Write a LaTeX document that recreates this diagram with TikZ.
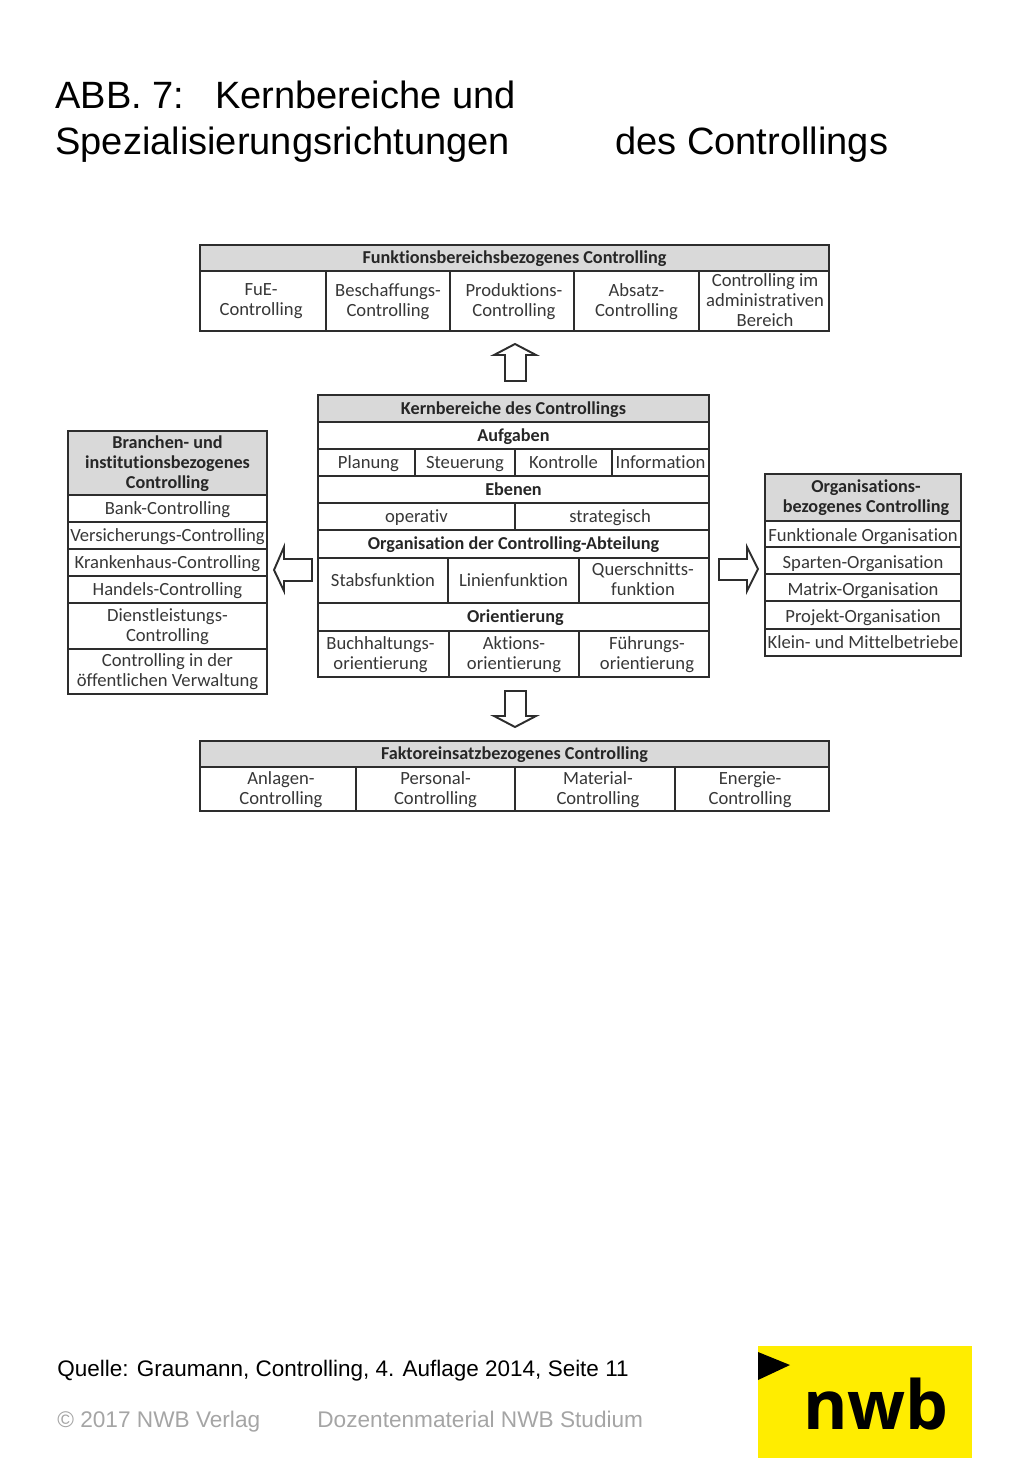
\documentclass[tikz,border=0pt]{standalone}
\usepackage{fontspec}
\setmainfont{Liberation Sans}
\newfontfamily\cellfont[Ligatures=CommonOff]{Carlito}
\newfontfamily\logofont{Open Sans}
\definecolor{rand}{RGB}{45,45,45}
\definecolor{kopf}{RGB}{217,217,217}
\definecolor{schrift}{RGB}{55,55,55}
\definecolor{grauf}{RGB}{165,165,165}
\definecolor{gelb}{RGB}{255,237,0}
\usetikzlibrary{positioning}
\tikzset{
  zelle/.style={draw=rand,line width=1.1pt},
  kopfz/.style={zelle,fill=kopf},
  ztext/.style={font=\cellfont\fontsize{10.6}{11.4}\selectfont,text=schrift,align=center,inner sep=0pt,
    yshift=-1.1pt,execute at begin node=\strut,execute at end node=\strut},
  ktext/.style={ztext,font=\cellfont\bfseries\fontsize{10.35}{11.4}\selectfont,text=black!85},
  rtext/.style={ztext,yshift=-1pt},
  blockpfeil/.style={draw=rand,line width=1.1pt,fill=white,line join=miter},
  zeile/.style={anchor=base west,inner sep=0pt}
}
\begin{document}
\begin{tikzpicture}[x=0.02cm,y=-0.02cm]
  \useasboundingbox (0,0) rectangle (1024,1479);

  % Titel
  \node[zeile,font=\fontsize{21.65}{24}\selectfont] (abb) at (55,109) {ABB. 7:};
  \node[zeile,font=\fontsize{21.65}{24}\selectfont] (kern) at (215,109) {Kernbereiche und};
  \node[zeile,font=\fontsize{21.65}{24}\selectfont] (spez) at (55,155) {Spezialisierungsrichtungen};
  \node[zeile,font=\fontsize{21.65}{24}\selectfont] (desc) at (615,155) {des Controllings};

  % oben
  \draw[kopfz] (200,245) rectangle (829,271) node[midway,ktext] (fb) {Funktionsbereichsbezogenes Controlling};
  \draw[zelle] (200,271) rectangle (326,331) node[midway,ztext,xshift=-1.1pt] (fue) {FuE-\\Controlling};
  \draw[zelle] (326,271) rectangle (450,331) node[midway,ztext] (besch) {Beschaffungs-\\Controlling};
  \draw[zelle] (450,271) rectangle (574,331) node[midway,ztext,xshift=1.1pt] (prod) {Produktions-\\Controlling};
  \draw[zelle] (574,271) rectangle (699,331) node[midway,ztext] (abs) {Absatz-\\Controlling};
  \draw[zelle] (699,271) rectangle (829,331) node[midway,ztext,xshift=0.6pt] (adm) {Controlling im\\administrativen\\Bereich};

  % Pfeile
  \draw[blockpfeil] (515,344) -- (536,355) -- (526,355) -- (526,381) -- (505,381) -- (505,355) -- (494,355) -- cycle;
  \draw[blockpfeil] (274,570) -- (284,547) -- (284,559) -- (312,559) -- (312,581) -- (284,581) -- (284,591) -- cycle;
  \draw[blockpfeil] (758,569) -- (747,547) -- (747,559) -- (719,559) -- (719,580) -- (747,580) -- (747,591) -- cycle;
  \draw[blockpfeil] (515,727) -- (536,716) -- (526,716) -- (526,691) -- (505,691) -- (505,716) -- (494,716) -- cycle;

  % Mitte
  \draw[kopfz] (318,395) rectangle (709,422) node[midway,ktext] (kb) {Kernbereiche des Controllings};
  \draw[zelle] (318,422) rectangle (709,449) node[midway,ktext] (aufg) {Aufgaben};
  \draw[zelle] (318,449) rectangle (415,476) node[midway,ztext,xshift=1.1pt] (plan) {Planung};
  \draw[zelle] (415,449) rectangle (515,476) node[midway,ztext] (steu) {Steuerung};
  \draw[zelle] (515,449) rectangle (612,476) node[midway,ztext] (kontr) {Kontrolle};
  \draw[zelle] (612,449) rectangle (709,476) node[midway,ztext] (info) {Information};
  \draw[zelle] (318,476) rectangle (709,503) node[midway,ktext] (eben) {Ebenen};
  \draw[zelle] (318,503) rectangle (515,530) node[midway,ztext] (oper) {operativ};
  \draw[zelle] (515,503) rectangle (709,530) node[midway,ztext,xshift=-1.1pt] (strat) {strategisch};
  \draw[zelle] (318,530) rectangle (709,558) node[midway,ktext] (orga) {Organisation der Controlling-Abteilung};
  \draw[zelle] (318,558) rectangle (448,603) node[midway,ztext] (stab) {Stabsfunktion};
  \draw[zelle] (448,558) rectangle (579,603) node[midway,ztext] (linie) {Linienfunktion};
  \draw[zelle] (579,558) rectangle (709,603) node[midway,ztext,xshift=-0.6pt] (quer) {Querschnitts-\\funktion};
  \draw[zelle] (318,603) rectangle (709,631) node[midway,ktext,xshift=1.1pt] (orient) {Orientierung};
  \draw[zelle] (318,631) rectangle (449,677) node[midway,ztext,xshift=-1.7pt] (buch) {Buchhaltungs-\\orientierung};
  \draw[zelle] (449,631) rectangle (579,677) node[midway,ztext] (akt) {Aktions-\\orientierung};
  \draw[zelle] (579,631) rectangle (709,677) node[midway,ztext,xshift=1.7pt] (fuehr) {Führungs-\\orientierung};

  % links
  \draw[kopfz] (68,431) rectangle (267,495) node[midway,ktext] (bran) {Branchen- und\\institutionsbezogenes\\Controlling};
  \draw[zelle] (68,495) rectangle (267,522) node[midway,ztext] (bank) {Bank-Controlling};
  \draw[zelle] (68,522) rectangle (267,549) node[midway,ztext] (vers) {Versicherungs-Controlling};
  \draw[zelle] (68,549) rectangle (267,576) node[midway,ztext] (krank) {Krankenhaus-Controlling};
  \draw[zelle] (68,576) rectangle (267,603) node[midway,ztext] (hand) {Handels-Controlling};
  \draw[zelle] (68,603) rectangle (267,649) node[midway,ztext] (dienst) {Dienstleistungs-\\Controlling};
  \draw[zelle] (68,649) rectangle (267,694) node[midway,ztext] (verw) {Controlling in der\\öffentlichen Verwaltung};

  % rechts
  \draw[kopfz] (765,474) rectangle (961,521) node[midway,ktext,xshift=1.7pt] (orgb) {Organisations-\\bezogenes Controlling};
  \draw[zelle] (765,521) rectangle (961,547) node[midway,rtext] (funk) {Funktionale Organisation};
  \draw[zelle] (765,547) rectangle (961,574) node[midway,rtext] (spart) {Sparten-Organisation};
  \draw[zelle] (765,574) rectangle (961,601) node[midway,rtext] (matr) {Matrix-Organisation};
  \draw[zelle] (765,601) rectangle (961,629) node[midway,rtext] (proj) {Projekt-Organisation};
  \draw[zelle] (765,629) rectangle (961,656) node[midway,ztext] (klein) {Klein- und Mittelbetriebe};

  % unten
  \draw[kopfz] (200,741) rectangle (829,767) node[midway,ktext] (fakt) {Faktoreinsatzbezogenes Controlling};
  \draw[zelle] (200,767) rectangle (356,811) node[midway,ztext,xshift=1.7pt] (anl) {Anlagen-\\Controlling};
  \draw[zelle] (356,767) rectangle (515,811) node[midway,ztext] (pers) {Personal-\\Controlling};
  \draw[zelle] (515,767) rectangle (675,811) node[midway,ztext,xshift=1.7pt] (mat) {Material-\\Controlling};
  \draw[zelle] (675,767) rectangle (829,811) node[midway,ztext,xshift=-1.1pt] (ener) {Energie-\\Controlling};

  % Fuss
  \node[zeile,font=\fontsize{12.8}{15}\selectfont] (quelle) at (57,1376) {Quelle: Graumann, Controlling, 4. Auflage 2014, Seite 11};
  \node[zeile,font=\fontsize{12.88}{15}\selectfont,text=grauf] (verlag) at (57,1427) {© 2017 NWB Verlag};
  \node[zeile,font=\fontsize{12.88}{15}\selectfont,text=grauf] (doz) at (317,1427) {Dozentenmaterial NWB Studium};

  % Logo
  \fill[gelb] (758,1346) rectangle (972,1458);
  \fill[black] (758,1352) -- (790,1365) -- (758,1380) -- cycle;
  \node[zeile,font=\logofont\bfseries\fontsize{38.6}{40}\selectfont] (nwb) at (803,1429) {nwb};
\end{tikzpicture}
\end{document}
